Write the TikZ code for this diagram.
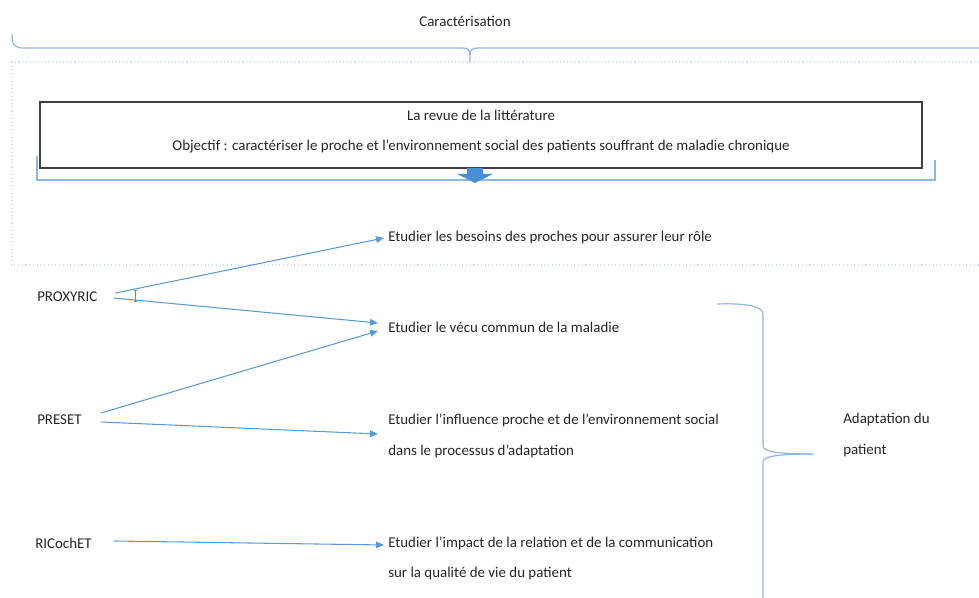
\documentclass[tikz,border=0pt]{standalone}
\usepackage{fontspec}
\setmainfont{Carlito}
\usetikzlibrary{arrows.meta,shadows}
\definecolor{arrowblue}{HTML}{5B9BD5}
\definecolor{braceblue}{HTML}{8FB6E3}
\definecolor{dotgray}{HTML}{D3DDEA}
\definecolor{txt}{HTML}{262626}
\definecolor{boxline}{HTML}{404040}
\definecolor{blockblue}{HTML}{4A8ED6}
\tikzset{
  lbl/.style={anchor=west, inner sep=0pt, font=\fontsize{11.2}{13}\selectfont, text=txt},
  conn/.style={arrowblue, line width=0.8pt, -{Triangle[length=6pt,width=5pt]}},
  bracelin/.style={braceblue, line width=0.9pt},
}
\begin{document}
\begin{tikzpicture}[x=0.75pt,y=-0.75pt]
\useasboundingbox (0,0) rectangle (979,598);
% title and top brace
\node[lbl, anchor=center] (carac) at (465,21) {Caractérisation};
\draw[bracelin] (12,34) .. controls (12,45) and (14,48) .. (24,48) -- (462,48)
  .. controls (468,48) and (470,50) .. (470,55) -- (470,63);
\draw[bracelin] (470,55) .. controls (470,50) and (472,48) .. (478,48) -- (979,48);
% light dotted frame
\draw[dotgray, dotted, line width=0.8pt] (979,62) -- (12,62) -- (12,265) -- (979,265);
% literature box
\node[draw=boxline, line width=1pt, fill=white, drop shadow={opacity=0.25, shadow xshift=1pt, shadow yshift=-1pt},
  minimum width=661.5pt, minimum height=49.5pt, align=center, inner sep=0pt,
  font=\fontsize{11.2}{13}\selectfont, text=txt] (box) at (481,135)
  {La revue de la littérature\\[9.5pt]Objectif : caractériser le proche et l’environnement social des patients souffrant de maladie chronique\rule[-7.5pt]{0pt}{7.5pt}};
% bracket below box
\draw[bracelin] (37,156) -- (37,180) -- (935,180) -- (935,160);
% block arrow
\fill[blockblue] (467,168) -- (483,168) -- (483,174) -- (493,174) -- (475,183) -- (457,174) -- (467,174) -- cycle;
% left labels
\node[lbl] (proxyric) at (37,297) {PROXYRIC};
\node[lbl] (preset) at (37,420) {PRESET};
\node[lbl] (ricochet) at (35,543) {RICochET};
% right texts
\node[lbl] (besoins) at (388,238) {Etudier les besoins des proches pour assurer leur rôle};
\node[lbl] (vecu) at (388,327) {Etudier le vécu commun de la maladie};
\node[lbl] (influence) at (388,420) {Etudier l’influence proche et de l’environnement social};
\node[lbl] (influence2) at (388,451) {dans le processus d’adaptation};
\node[lbl] (impact) at (388,543) {Etudier l’impact de la relation et de la communication};
\node[lbl] (impact2) at (388,574) {sur la qualité de vie du patient};
\node[lbl] (adapt) at (843,420) {Adaptation du};
\node[lbl] (adapt2) at (843,451) {patient};
% connectors
\draw[conn] ([shift={(18,-4)}]proxyric.east) -- ([shift={(-4,0)}]besoins.west);
\draw[conn] ([shift={(16,1)}]proxyric.east) -- ([shift={(-10,-4)}]vecu.west);
\draw[conn] ([shift={(19,-7)}]preset.east) -- ([shift={(-10,4)}]vecu.west);
\draw[conn] ([shift={(19,2)}]preset.east) -- ([shift={(-10,14)}]influence.west);
\draw[conn] ([shift={(22,-2)}]ricochet.east) -- ([shift={(-4,2)}]impact.west);
% text cursor mark
\draw[gray, line width=0.6pt] (135,290) -- (135,301) (133.5,290) -- (136.5,290) (133.5,301) -- (136.5,301);
% right brace
\draw[bracelin] (717,304) .. controls (745,303) and (763,306) .. (763,314) -- (763,446)
  .. controls (763,452) and (780,454) .. (813,454);
\draw[bracelin] (813,454) .. controls (780,454) and (763,456) .. (763,462) -- (763,598);
\end{tikzpicture}
\end{document}
